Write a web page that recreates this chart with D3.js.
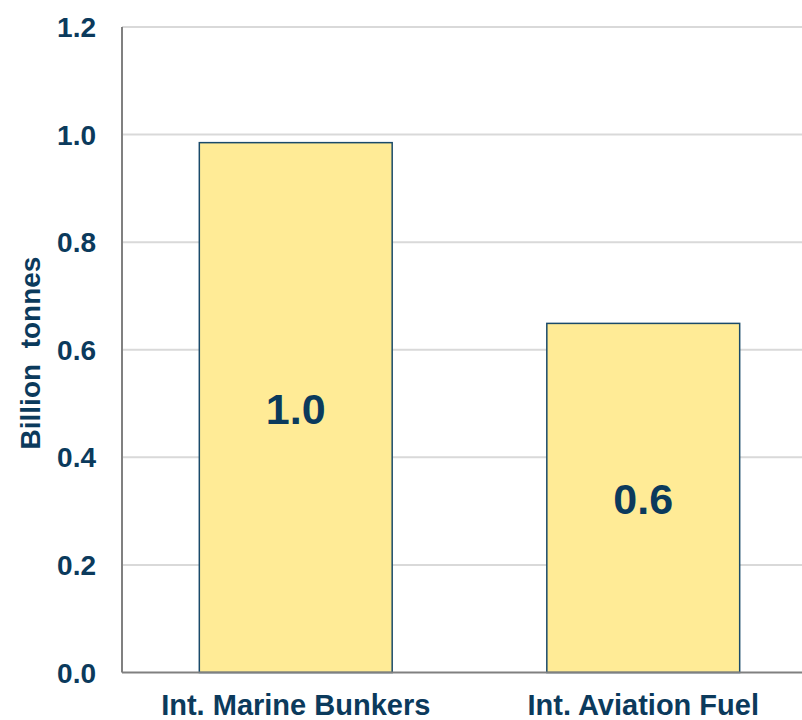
<!DOCTYPE html>
<html><head><meta charset="utf-8">
<script src="https://cdn.jsdelivr.net/npm/d3@7"></script>
<style>html,body{margin:0;padding:0;background:#fff;overflow:hidden}</style>
</head><body>
<svg id="c" width="802" height="720"></svg>
<script>
const categories = ["Int. Marine Bunkers", "Int. Aviation Fuel"];
const values = [0.985, 0.649];
const valueLabels = ["1.0", "0.6"];
const yTicks = [0, 0.2, 0.4, 0.6, 0.8, 1.0, 1.2];
const yTickLabels = ["0.0", "0.2", "0.4", "0.6", "0.8", "1.0", "1.2"];
const yTitle = "Billion  tonnes";

(function () {
const textColor = "#0b3a5c";
const font = "'Liberation Sans', Arial, sans-serif";
const svg = d3.select("#c");
const pLeft = 122, pRight = 817, pTop = 27, pBottom = 672.5;
const y = d3.scaleLinear().domain([0, 1.2]).range([pBottom, pTop]);
const x = d3.scaleBand().domain(categories).range([pLeft, pRight]).paddingInner(0.445).paddingOuter(0.2225);

// gridlines
svg.append("g").selectAll("line").data(yTicks.filter(d => d > 0)).join("line")
  .attr("x1", pLeft).attr("x2", 802).attr("y1", d => y(d)).attr("y2", d => y(d))
  .attr("stroke", "#d9d9d9").attr("stroke-width", 2);

// bars
svg.append("g").selectAll("rect").data(values).join("rect")
  .attr("x", (d, i) => x(categories[i]))
  .attr("width", x.bandwidth())
  .attr("y", d => y(d))
  .attr("height", d => y(0) - y(d))
  .attr("fill", "#ffeb96").attr("stroke", "#1a4a6a").attr("stroke-width", 1.5);

// axes lines
svg.append("line").attr("x1", pLeft).attr("x2", pLeft).attr("y1", pTop).attr("y2", pBottom)
  .attr("stroke", "#808080").attr("stroke-width", 2);
svg.append("line").attr("x1", pLeft).attr("x2", 802).attr("y1", pBottom).attr("y2", pBottom)
  .attr("stroke", "#808080").attr("stroke-width", 2);

// y tick labels
svg.append("g").selectAll("text").data(yTicks).join("text")
  .attr("x", 96).attr("y", d => y(d)).attr("dy", "0.36em")
  .attr("text-anchor", "end")
  .attr("font-family", font).attr("font-weight", "bold")
  .attr("font-size", 28).attr("fill", textColor)
  .text((d, i) => yTickLabels[i]);

// y title
svg.append("text")
  .attr("transform", `translate(40,353) rotate(-90)`)
  .attr("text-anchor", "middle")
  .attr("font-family", font).attr("font-weight", "bold")
  .attr("font-size", 28).attr("fill", textColor)
  .style("white-space", "pre")
  .text(yTitle);

// value labels
svg.append("g").selectAll("text").data(values).join("text")
  .attr("x", (d, i) => x(categories[i]) + x.bandwidth() / 2)
  .attr("y", d => (y(d) + y(0)) / 2).attr("dy", "0.38em")
  .attr("text-anchor", "middle")
  .attr("font-family", font).attr("font-weight", "bold")
  .attr("font-size", 43).attr("fill", textColor)
  .text((d, i) => valueLabels[i]);

// category labels
svg.append("g").selectAll("text").data(categories).join("text")
  .attr("x", d => x(d) + x.bandwidth() / 2)
  .attr("y", 715)
  .attr("text-anchor", "middle")
  .attr("font-family", font).attr("font-weight", "bold")
  .attr("font-size", 29).attr("fill", textColor)
  .text(d => d);
})();
</script>
</body></html>
